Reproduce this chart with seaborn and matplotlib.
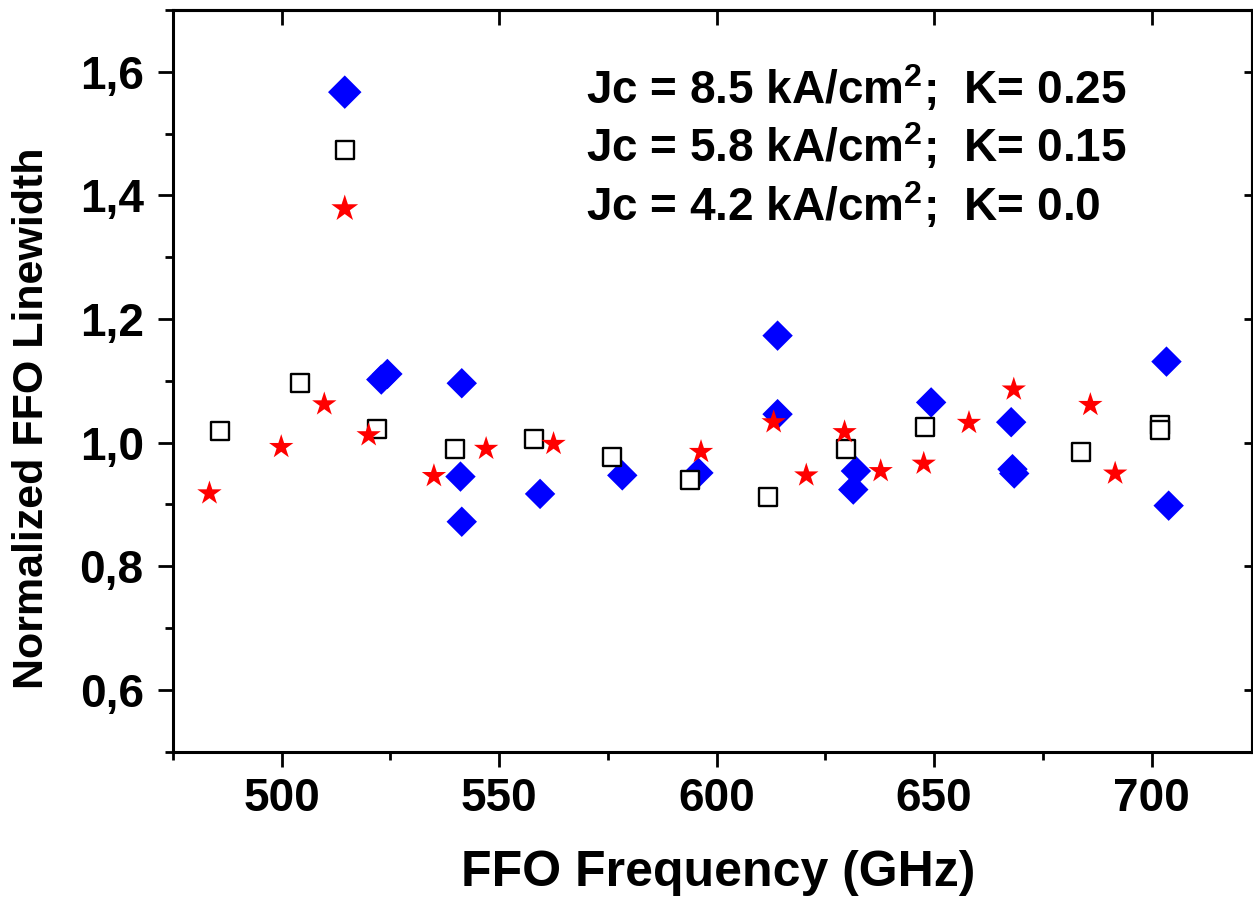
import numpy as np
import pandas as pd
import matplotlib
matplotlib.use("Agg")
import matplotlib.pyplot as plt
import seaborn as sns
from matplotlib.ticker import MultipleLocator, FixedLocator

# series: FFO frequency (GHz) and normalized linewidth
freq_85 = [522.9, 524.3, 541.4, 541.1, 541.4, 559.4, 578.3, 595.8, 614.0,
           614.0, 632.0, 631.4, 649.3, 667.7, 668.0, 668.4, 703.4, 703.9]
lw_85 = [1.102, 1.111, 1.096, 0.945, 0.872, 0.917, 0.947, 0.951, 1.173,
         1.046, 0.954, 0.924, 1.065, 1.033, 0.957, 0.950, 1.131, 0.898]

freq_58 = [485.9, 504.1, 521.9, 539.9, 558.0, 575.9, 593.8, 611.9, 629.8,
           647.8, 683.8, 701.8, 701.8]
lw_58 = [1.018, 1.097, 1.022, 0.989, 1.006, 0.976, 0.939, 0.912, 0.990,
         1.026, 0.984, 1.029, 1.021]

freq_42 = [483.4, 499.9, 509.8, 520.0, 535.0, 547.0, 562.5, 596.4, 613.1,
           620.6, 629.4, 637.7, 647.6, 658.0, 668.3, 685.9, 691.6]
lw_42 = [0.918, 0.993, 1.062, 1.012, 0.946, 0.990, 0.998, 0.985, 1.033,
         0.947, 1.017, 0.954, 0.966, 1.032, 1.086, 1.061, 0.950]

labels = [r"Jc = 8.5 kA/cm$^{\mathbf{2}}$;  K= 0.25",
          r"Jc = 5.8 kA/cm$^{\mathbf{2}}$;  K= 0.15",
          r"Jc = 4.2 kA/cm$^{\mathbf{2}}$;  K= 0.0"]

xticks = [500, 550, 600, 650, 700]
yticks = [0.6, 0.8, 1.0, 1.2, 1.4, 1.6]
ytick_labels = ["0,6", "0,8", "1,0", "1,2", "1,4", "1,6"]

sns.set_style("ticks", {"axes.edgecolor": "black", "text.color": "black",
                        "xtick.color": "black", "ytick.color": "black",
                        "axes.labelcolor": "black"})
plt.rcParams['font.family'] = ['Liberation Sans', 'DejaVu Sans']
plt.rcParams['font.weight'] = 'bold'
plt.rcParams['mathtext.fontset'] = 'custom'
plt.rcParams['mathtext.bf'] = 'Liberation Sans:bold'
plt.rcParams['mathtext.rm'] = 'Liberation Sans:bold'

fig = plt.figure(figsize=(12.53, 8.97), dpi=100)
ax = fig.add_axes([0.138, 0.162, 0.861, 0.827])

sns.scatterplot(x=freq_85, y=lw_85, marker='D', s=240, color='#0000ff',
                edgecolor='none', linewidth=0, label=labels[0], ax=ax, zorder=3)
sns.scatterplot(x=freq_58, y=lw_58, marker='s', s=150, color='white',
                edgecolor='black', linewidth=1.7, label=labels[1], ax=ax, zorder=4)
sns.scatterplot(x=freq_42, y=lw_42, marker='*', s=340, color='#ff0000',
                edgecolor='none', linewidth=0, label=labels[2], ax=ax, zorder=5)

ax.set_xlim(475, 723)
ax.set_ylim(0.5, 1.7)

ax.xaxis.set_major_locator(FixedLocator(xticks))
ax.xaxis.set_minor_locator(MultipleLocator(25))
ax.yaxis.set_major_locator(FixedLocator(yticks))
ax.yaxis.set_minor_locator(MultipleLocator(0.1))
ax.set_yticklabels(ytick_labels)

for sp in ax.spines.values():
    sp.set_linewidth(2.2)
    sp.set_visible(True)

ax.tick_params(which='major', direction='out', length=11, width=2.0,
               labelsize=33, pad=7, colors='black')
ax.tick_params(which='minor', direction='out', length=5.5, width=2.0,
               colors='black')
ax.tick_params(axis='y', which='major', pad=10)
for t in ax.get_xticklabels() + ax.get_yticklabels():
    t.set_fontweight('bold')

# inward ticks on top and right
top = ax.secondary_xaxis('top')
top.xaxis.set_major_locator(FixedLocator(xticks))
top.tick_params(direction='in', length=11, width=2.0, labeltop=False,
                colors='black')
top.spines['top'].set_linewidth(2.2)
right = ax.secondary_yaxis('right')
right.yaxis.set_major_locator(FixedLocator(yticks))
right.tick_params(direction='in', length=6, width=2.0, labelright=False,
                  colors='black')
right.spines['right'].set_linewidth(2.2)

ax.set_xlabel("FFO Frequency (GHz)", fontsize=36, fontweight='bold')
ax.set_ylabel("Normalized FFO Linewidth", fontsize=31, fontweight='bold')
ax.xaxis.set_label_coords(0.5056, -0.132)
ax.yaxis.set_label_coords(-0.112, 0.449)

leg = ax.legend(loc='upper left', bbox_to_anchor=(0.1168, 0.928),
                frameon=False, handlelength=2.0,
                handletextpad=4.26, labelspacing=0.16, borderpad=0,
                borderaxespad=0, scatterpoints=1, markerscale=1.1,
                prop={'weight': 'bold', 'size': 33})

fig.savefig("out.png", dpi=100)
